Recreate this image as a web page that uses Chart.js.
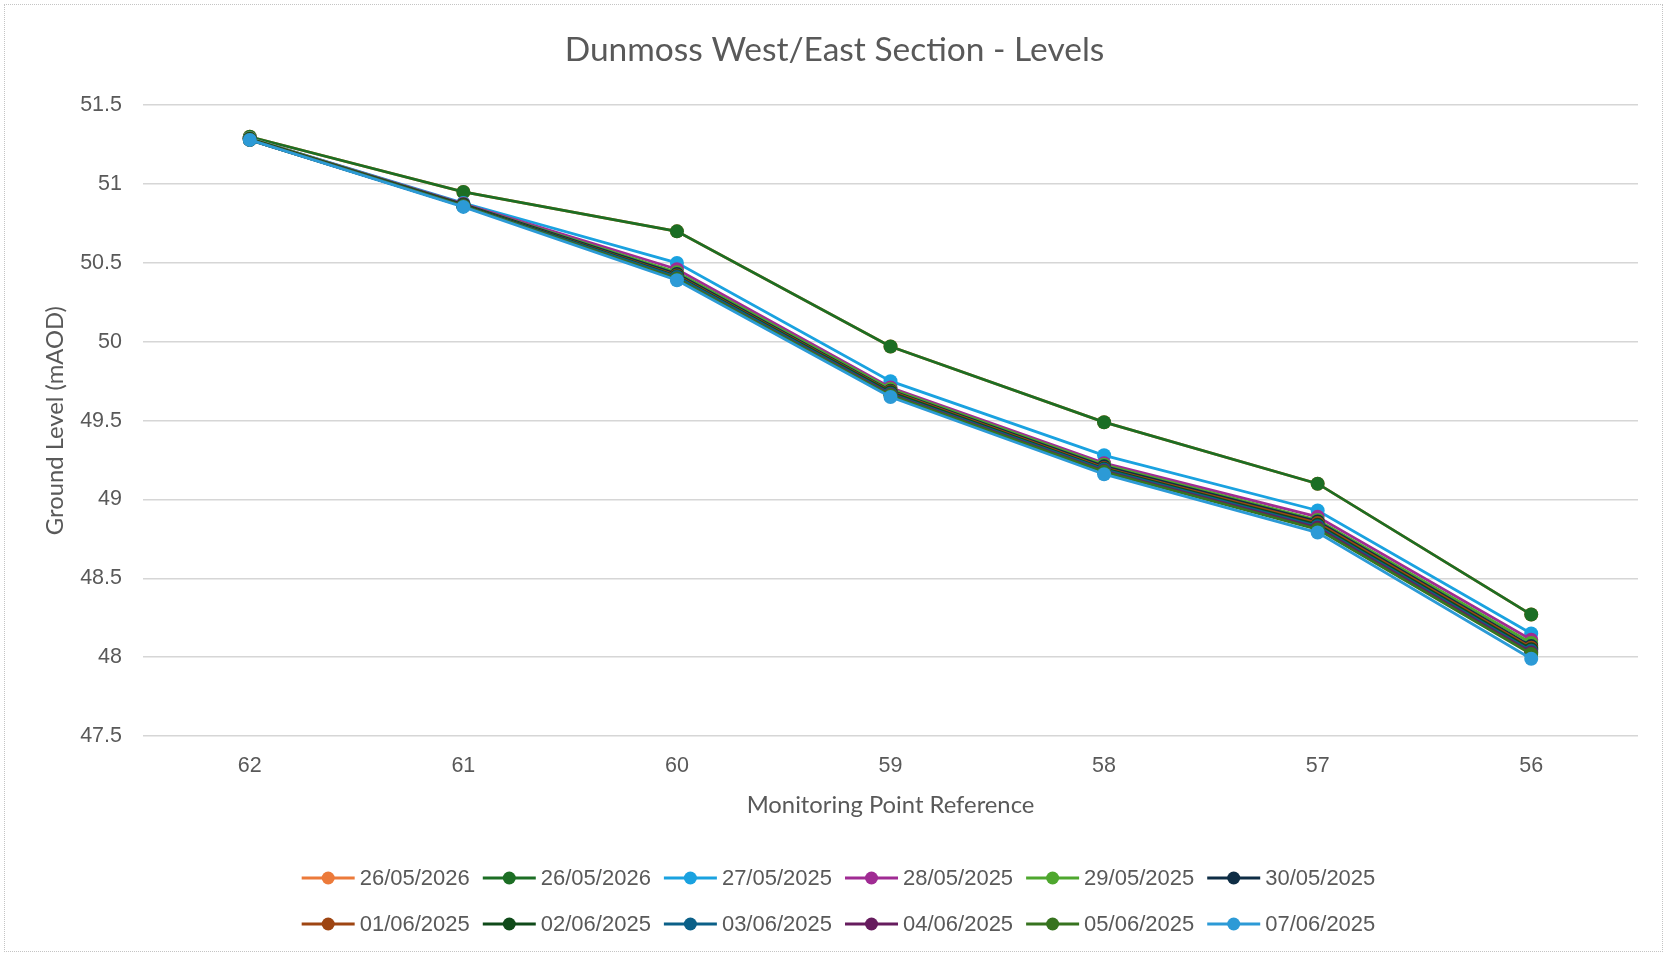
<!DOCTYPE html>
<html>
<head>
<meta charset="utf-8">
<script src="https://cdn.jsdelivr.net/npm/chart.js@4.4.1/dist/chart.umd.min.js"></script>
<style>
  html, body { margin: 0; padding: 0; background: #ffffff; }
  #wrap { position: relative; width: 1669px; height: 958px; background: #ffffff; }
  #frame { position: absolute; left: 4px; top: 4px; width: 1659px; height: 948px;
           border: 1px dotted #c4c4c4; box-sizing: border-box; pointer-events: none; }
  canvas { position: absolute; left: 0; top: 0; }
</style>
</head>
<body>
<div id="wrap">
  <canvas id="c" width="1669" height="958"></canvas>
  <div id="frame"></div>
</div>
<script>
// ---- Data ----
const categories = ['62', '61', '60', '59', '58', '57', '56'];
const yTicks = [47.5, 48, 48.5, 49, 49.5, 50, 50.5, 51, 51.5];

const seriesNames = ['26/05/2026', '26/05/2026', '27/05/2025', '28/05/2025', '29/05/2025', '30/05/2025',
                     '01/06/2025', '02/06/2025', '03/06/2025', '04/06/2025', '05/06/2025', '07/06/2025'];

const s26_05_2026a = [51.30, 50.95, 50.70, 49.97, 49.49, 49.10, 48.27];
const s26_05_2026b = [51.30, 50.95, 50.70, 49.97, 49.49, 49.10, 48.27];
const s27_05_2025  = [51.29, 50.88, 50.50, 49.75, 49.28, 48.93, 48.15];
const s28_05_2025  = [51.29, 50.875, 50.46, 49.71, 49.23, 48.89, 48.11];
const s29_05_2025  = [51.29, 50.87, 50.44, 49.70, 49.22, 48.87, 48.09];
const s30_05_2025  = [51.285, 50.87, 50.43, 49.69, 49.21, 48.86, 48.07];
const s01_06_2025  = [51.285, 50.865, 50.42, 49.685, 49.20, 48.85, 48.06];
const s02_06_2025  = [51.285, 50.865, 50.415, 49.68, 49.195, 48.84, 48.05];
const s03_06_2025  = [51.28, 50.86, 50.41, 49.67, 49.19, 48.83, 48.04];
const s04_06_2025  = [51.28, 50.86, 50.40, 49.665, 49.18, 48.82, 48.03];
const s05_06_2025  = [51.28, 50.86, 50.40, 49.66, 49.175, 48.81, 48.02];
const s07_06_2025  = [51.28, 50.855, 50.39, 49.65, 49.16, 48.79, 47.99];

const seriesValues = [s26_05_2026a, s26_05_2026b, s27_05_2025, s28_05_2025, s29_05_2025, s30_05_2025,
                      s01_06_2025, s02_06_2025, s03_06_2025, s04_06_2025, s05_06_2025, s07_06_2025];

const seriesColors = ['#EC7A3A', '#1C6E24', '#1AA2E0', '#A02B93', '#4EA72E', '#0E2D45',
                      '#9E4512', '#0F4A19', '#0B6088', '#661C5E', '#37731F', '#2C9AD6'];

// ---- Build chart ----
const TEXT = '#595959';
const n = seriesNames.length;
const datasets = seriesNames.map((name, i) => ({
  label: name,
  data: seriesValues[i],
  borderColor: seriesColors[i],
  backgroundColor: seriesColors[i],
  borderWidth: 2.8,
  pointRadius: 7,
  pointHoverRadius: 7,
  pointBorderWidth: 0,
  pointBackgroundColor: seriesColors[i],
  tension: 0,
  yAxisID: 'y',
  order: n - i
}));

const legendPlugin = {
  id: 'excelLegend',
  afterDraw(chart) {
    const ctx = chart.ctx;
    const perRow = 6;
    const rowsY = [878, 924];
    const lineW = 53, gapTxt = 5, gapItem = 13;
    ctx.save();
    ctx.font = '22px "Liberation Sans", Arial, sans-serif';
    ctx.textBaseline = 'middle';
    ctx.textAlign = 'left';
    const items = chart.data.datasets.map(d => ({ label: d.label, color: d.borderColor,
      w: lineW + gapTxt + ctx.measureText(d.label).width }));
    for (let r = 0; r < 2; r++) {
      const row = items.slice(r * perRow, r * perRow + perRow);
      const total = row.reduce((a, it) => a + it.w, 0) + gapItem * (row.length - 1);
      let x = chart.width / 2 + 4 - total / 2;
      const y = rowsY[r];
      row.forEach(it => {
        ctx.strokeStyle = it.color;
        ctx.lineWidth = 2.8;
        ctx.beginPath();
        ctx.moveTo(x, y);
        ctx.lineTo(x + lineW, y);
        ctx.stroke();
        ctx.fillStyle = it.color;
        ctx.beginPath();
        ctx.arc(x + lineW / 2, y, 6.5, 0, Math.PI * 2);
        ctx.fill();
        ctx.fillStyle = TEXT;
        ctx.fillText(it.label, x + lineW + gapTxt, y + 1);
        x += it.w + gapItem;
      });
    }
    ctx.restore();
  }
};

new Chart(document.getElementById('c'), {
  type: 'line',
  data: { labels: categories, datasets },
  options: {
    responsive: false,
    animation: false,
    events: [],
    layout: { padding: { left: 0, right: 0, top: 0, bottom: 138 } },
    plugins: {
      legend: { display: false },
      tooltip: { enabled: false },
      title: {
        display: true,
        text: 'Dunmoss West/East Section - Levels',
        color: TEXT,
        font: { family: 'Lato, "Open Sans", sans-serif', size: 33.5, weight: 'normal' },
        padding: { top: 30, bottom: 35 }
      }
    },
    scales: {
      x: {
        offset: true,
        grid: { display: false, drawTicks: false },
        border: { display: false },
        ticks: { color: TEXT, padding: 17, font: { family: '"Liberation Sans", Arial, sans-serif', size: 21.5 } },
        title: {
          display: true, text: 'Monitoring Point Reference', color: TEXT,
          font: { family: 'Lato, "Open Sans", sans-serif', size: 23.8 },
          padding: { top: 14, bottom: 0 }
        },
        afterFit(scale) { scale.height = 84; }
      },
      y: {
        min: 47.5, max: 51.5,
        afterBuildTicks(scale) { scale.ticks = yTicks.map(v => ({ value: v })); },
        grid: { color: '#d6d6d6', lineWidth: 1.5, drawTicks: false },
        border: { display: false },
        ticks: {
          color: TEXT, padding: 21,
          font: { family: '"Liberation Sans", Arial, sans-serif', size: 21.5 },
          callback: v => String(v)
        },
        title: {
          display: true, text: 'Ground Level (mAOD)', color: TEXT,
          font: { family: 'Lato, "Open Sans", sans-serif', size: 23.8 },
          padding: { top: 41, bottom: 0 }
        },
        afterFit(scale) { scale.width = 143; }
      },
      yRightSpacer: {
        position: 'right',
        display: true,
        min: 47.5, max: 51.5,
        grid: { display: false, drawTicks: false },
        border: { display: false },
        ticks: { display: false },
        afterFit(scale) { scale.width = 31; }
      }
    }
  },
  plugins: [legendPlugin]
});
</script>
</body>
</html>
